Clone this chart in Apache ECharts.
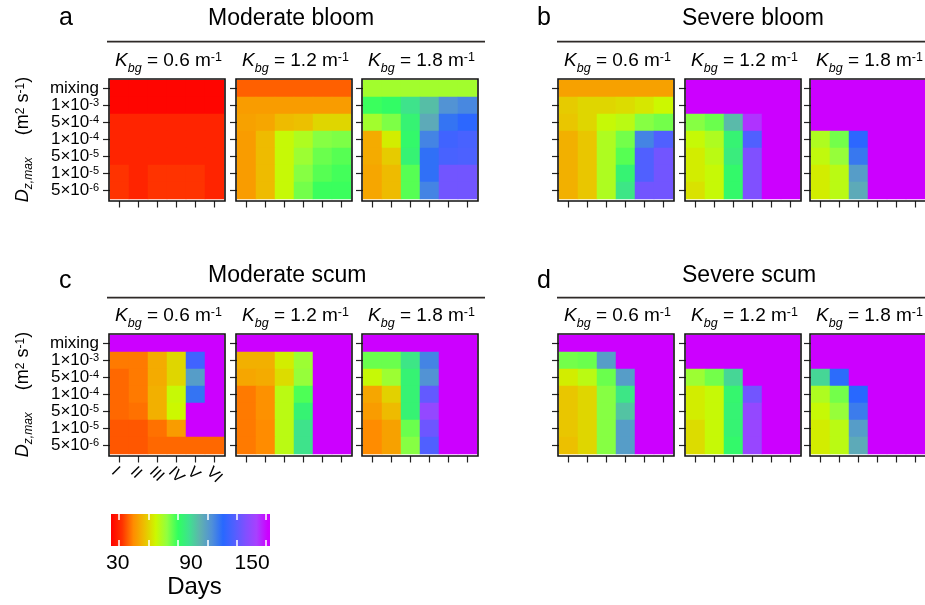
<!DOCTYPE html>
<html>
<head>
<meta charset="utf-8">
<script src="https://cdn.jsdelivr.net/npm/echarts@6/dist/echarts.min.js"></script>
<style>
  html, body { margin: 0; padding: 0; background: #fff; }
  #chart { width: 925px; height: 605px; }
</style>
</head>
<body>
<div id="chart"></div>
<script>
// ---- categories and tick labels ----
const dzLabels = ['mixing', '1×10^-3', '5×10^-4', '1×10^-4', '5×10^-5', '1×10^-5', '5×10^-6'];
const growthClasses = ['I', 'II', 'III', 'IV', 'V', 'VI'];
const kbgValues = ['0.6', '1.2', '1.8'];
const panelLetters = ['a', 'b', 'c', 'd'];
const panelTitles = ['Moderate bloom', 'Severe bloom', 'Moderate scum', 'Severe scum'];
const colorbarLabels = [30, 90, 150];
const colorbarTicks = [30.5, 58, 84, 110, 136, 162];

// ---- days to recovery; rows follow dzLabels (top to bottom), columns follow growthClasses ----
// 180 = not reached within the simulated season
const moderateBloomK06 = [
  [25, 25, 25, 25, 25, 25],
  [25, 25, 25, 25, 25, 25],
  [31, 31, 31, 31, 31, 31],
  [31, 31, 31, 31, 31, 31],
  [31, 31, 31, 31, 31, 31],
  [34, 31, 34, 34, 34, 31],
  [34, 31, 34, 34, 34, 31]
];
const moderateBloomK12 = [
  [39, 39, 39, 39, 39, 39],
  [47, 47, 47, 47, 47, 47],
  [48, 49, 53, 54, 58, 58],
  [47, 53, 65, 69, 75, 76],
  [47, 53, 65, 72, 78, 80],
  [47, 53, 65, 75, 80, 82],
  [47, 53, 65, 77, 83, 83]
];
const moderateBloomK18 = [
  [71, 71, 71, 71, 71, 71],
  [83, 85, 93, 101, 113, 116],
  [71, 76, 88, 106, 121, 125],
  [50, 62, 86, 117, 130, 132],
  [50, 56, 88, 122, 132, 133],
  [49, 53, 80, 122, 141, 141],
  [49, 53, 80, 117, 141, 141]
];
const severeBloomK06 = [
  [48, 48, 48, 48, 48, 48],
  [56, 58, 58, 59, 61, 64],
  [55, 58, 65, 67, 75, 77],
  [51, 55, 69, 77, 117, 134],
  [51, 55, 69, 80, 134, 141],
  [51, 55, 69, 88, 134, 141],
  [51, 55, 69, 92, 141, 141]
];
const severeBloomK12 = [
  [180, 180, 180, 180, 180, 180],
  [180, 180, 180, 180, 180, 180],
  [75, 78, 102, 156, 180, 180],
  [65, 69, 88, 134, 180, 180],
  [62, 67, 90, 144, 180, 180],
  [62, 65, 86, 144, 180, 180],
  [60, 65, 86, 144, 180, 180]
];
const severeBloomK18 = [
  [180, 180, 180, 180, 180, 180],
  [180, 180, 180, 180, 180, 180],
  [180, 180, 180, 180, 180, 180],
  [69, 77, 125, 180, 180, 180],
  [66, 73, 120, 180, 180, 180],
  [62, 67, 110, 180, 180, 180],
  [62, 67, 106, 180, 180, 180]
];
const moderateScumK06 = [
  [180, 180, 180, 180, 180, 180],
  [42, 42, 50, 58, 130, 180],
  [40, 42, 50, 58, 110, 180],
  [40, 42, 51, 65, 121, 180],
  [40, 41, 51, 64, 180, 180],
  [38, 38, 41, 47, 180, 180],
  [38, 38, 40, 40, 40, 40]
];
const moderateScumK12 = [
  [180, 180, 180, 180, 180, 180],
  [51, 51, 62, 72, 180, 180],
  [49, 50, 59, 73, 180, 180],
  [42, 45, 67, 81, 180, 180],
  [42, 45, 67, 88, 180, 180],
  [42, 44, 67, 93, 180, 180],
  [42, 44, 67, 93, 180, 180]
];
const moderateScumK18 = [
  [180, 180, 180, 180, 180, 180],
  [78, 78, 92, 117, 180, 180],
  [65, 72, 88, 113, 180, 180],
  [49, 57, 88, 138, 180, 180],
  [47, 53, 88, 149, 180, 180],
  [44, 48, 78, 140, 180, 180],
  [44, 48, 75, 134, 180, 180]
];
const severeScumK06 = [
  [180, 180, 180, 180, 180, 180],
  [77, 78, 110, 180, 180, 180],
  [62, 67, 78, 110, 180, 180],
  [55, 58, 75, 92, 180, 180],
  [55, 58, 75, 100, 180, 180],
  [55, 58, 75, 110, 180, 180],
  [54, 58, 75, 110, 180, 180]
];
const severeScumK12 = [
  [180, 180, 180, 180, 180, 180],
  [180, 180, 180, 180, 180, 180],
  [72, 77, 96, 180, 180, 180],
  [62, 65, 87, 141, 180, 180],
  [62, 65, 88, 149, 180, 180],
  [59, 65, 88, 150, 180, 180],
  [59, 65, 86, 150, 180, 180]
];
const severeScumK18 = [
  [180, 180, 180, 180, 180, 180],
  [180, 180, 180, 180, 180, 180],
  [96, 123, 180, 180, 180, 180],
  [69, 77, 124, 180, 180, 180],
  [65, 73, 119, 180, 180, 180],
  [62, 67, 110, 180, 180, 180],
  [62, 67, 106, 180, 180, 180]
];

const panelData = [
  [moderateBloomK06, moderateBloomK12, moderateBloomK18],
  [severeBloomK06, severeBloomK12, severeBloomK18],
  [moderateScumK06, moderateScumK12, moderateScumK18],
  [severeScumK06, severeScumK12, severeScumK18]
];

// ---- colour scale: rainbow, one stop every 10 days from 24 to 184 ----
const SCALE_MIN = 24, SCALE_MAX = 184, SCALE_STEP = 10;
const COLOR_RAMP = [
  '#ff0000', '#ff3300', '#ff8c00', '#ecc000', '#ccf800', '#90ff40', '#30ff60', '#40e090',
  '#60b0b0', '#5090d8', '#2868ff', '#5060ff', '#8050ff', '#a840ff', '#cc00ff', '#cc00ff', '#cc00ff'
];
const BAR_MIN = 24, BAR_MAX = 166;

// ---- layout ----
const FONT = '"Liberation Sans", Arial, Helvetica, sans-serif';
const frameLeft = [[109, 236, 362], [558, 685, 810]];
const frameTop = [79, 334];
const FRAME_W = 116, FRAME_H = 122;
const CELL_W = 114, CELL_H = 119;   // 6 x 19 px, 7 x 17 px

const chart = echarts.init(document.getElementById('chart'), null, { renderer: 'canvas' });

function toCells(rows) {
  const out = [];
  rows.forEach((row, r) => row.forEach((v, c) => out.push([c, r, v])));
  return out;
}

function dzFormatter(value) {
  if (value.indexOf('^') < 0) return '{n|' + value + '}';
  const parts = value.split('^');
  return '{n|' + parts[0] + '}{sup|' + parts[1] + '}';
}

const grids = [], xAxes = [], yAxes = [], series = [];
const graphics = [];

panelData.forEach((panel, p) => {
  const col = p % 2, row = Math.floor(p / 2);
  const Y = frameTop[row];

  // panel letter, heading and rule
  graphics.push({
    type: 'text', x: col ? 537 : 59, y: row ? 281 : 18, z: 100,
    style: { text: panelLetters[p], fontSize: 25, fontFamily: FONT, fill: '#000',
      align: 'left', verticalAlign: 'middle', textAlign: 'left', textVerticalAlign: 'middle' }
  });
  graphics.push({
    type: 'text', x: col ? 682 : 208, y: row ? 275.3 : 18.7, z: 100,
    style: { text: panelTitles[p], fontSize: 23, fontFamily: FONT, fill: '#000',
      align: 'left', verticalAlign: 'middle', textAlign: 'left', textVerticalAlign: 'middle' }
  });
  graphics.push({
    type: 'line', z: 100,
    shape: { x1: col ? 557 : 107, y1: row ? 297.7 : 41.7, x2: col ? 935 : 485, y2: row ? 297.7 : 41.7 },
    style: { stroke: '#2e2a28', lineWidth: 1.8 }
  });

  panel.forEach((cells, k) => {
    const idx = p * 3 + k;
    const X = frameLeft[col][k];
    const firstCol = (k === 0 && col === 0);
    const labelled = (p === 2 && k === 0);

    grids.push({ left: X + 1, top: Y + 1, width: CELL_W, height: CELL_H, containLabel: false });

    xAxes.push({
      gridIndex: idx, type: 'category', data: growthClasses, offset: FRAME_H - CELL_H - 1,
      axisLine: { show: false },
      axisTick: { show: true, alignWithLabel: true, length: 6.5, lineStyle: { color: '#222', width: 1.2 } },
      splitLine: { show: false },
      axisLabel: labelled ? {
        show: true, interval: 0, rotate: -45, fontSize: 16, fontFamily: FONT, color: '#000',
        align: 'left', verticalAlign: 'top', margin: 8
      } : { show: false }
    });

    yAxes.push({
      gridIndex: idx, type: 'category', data: dzLabels, inverse: true,
      axisLine: { show: false },
      axisTick: { show: true, alignWithLabel: true, length: 7, lineStyle: { color: '#222', width: 1.2 } },
      splitLine: { show: false },
      axisLabel: firstCol ? {
        show: true, interval: 0, margin: 11, color: '#000', formatter: dzFormatter,
        rich: {
          n: { fontSize: 17, fontFamily: FONT, color: '#000', lineHeight: 17 },
          sup: { fontSize: 11, fontFamily: FONT, color: '#000', lineHeight: 17, padding: [0, 0, 5, 0] }
        }
      } : { show: false },
      name: firstCol ? '{d|D}{sub|z,max}{gap| }{n|(m}{sup|2}{n| s}{sup|-1}{n|)}' : '',
      nameLocation: 'middle', nameRotate: 90, nameGap: 77,
      nameTextStyle: {
        rich: {
          d: { fontSize: 18, fontStyle: 'italic', fontFamily: FONT, color: '#000', lineHeight: 20 },
          sub: { fontSize: 12, fontStyle: 'italic', fontFamily: FONT, color: '#000', lineHeight: 20, padding: [12, 0, 0, 0] },
          gap: { width: 22, fontSize: 12, lineHeight: 20 },
          n: { fontSize: 18, fontFamily: FONT, color: '#000', lineHeight: 20 },
          sup: { fontSize: 12, fontFamily: FONT, color: '#000', lineHeight: 20, padding: [0, 0, 5, 0] }
        }
      }
    });

    series.push({
      type: 'heatmap', xAxisIndex: idx, yAxisIndex: idx, data: toCells(cells),
      silent: true, emphasis: { disabled: true }, itemStyle: { borderWidth: 0 }
    });

    // subplot heading: K_bg = value m^-1
    graphics.push({
      type: 'text', x: X + FRAME_W / 2 + 1.5, y: Y - 18.5, z: 100,
      style: {
        text: '{k|K}{sub|bg}{n| = ' + kbgValues[k] + ' m}{sup|-1}',
        align: 'center', verticalAlign: 'middle', textAlign: 'center', textVerticalAlign: 'middle',
        rich: {
          k: { fontSize: 19, fontStyle: 'italic', fontFamily: FONT, fill: '#000', lineHeight: 20 },
          sub: { fontSize: 12.5, fontStyle: 'italic', fontFamily: FONT, fill: '#000', lineHeight: 20, padding: [17, 0, 0, 0] },
          n: { fontSize: 19, fontFamily: FONT, fill: '#000', lineHeight: 20 },
          sup: { fontSize: 12.5, fontFamily: FONT, fill: '#000', lineHeight: 20, padding: [0, 0, 5, 0] }
        }
      }
    });

    // box around each subplot
    graphics.push({
      type: 'rect', z: 100,
      shape: { x: X, y: Y, width: FRAME_W, height: FRAME_H },
      style: { fill: 'rgba(0,0,0,0)', stroke: '#111', lineWidth: 1.6 }
    });
  });
});

// ---- colour bar ----
const barGrid = grids.length;
grids.push({ left: 111, top: 514, width: 159, height: 32 });
xAxes.push({
  gridIndex: barGrid, type: 'value', min: BAR_MIN, max: BAR_MAX, position: 'bottom', z: 5,
  axisLine: { show: false }, splitLine: { show: false },
  axisTick: { show: true, inside: true, length: 6, customValues: colorbarTicks, lineStyle: { color: '#fff', width: 1.5 } },
  axisLabel: {
    show: true, customValues: colorbarLabels, fontSize: 21, fontFamily: FONT, color: '#000', margin: 7,
    formatter: function (v) { return v === 90 ? '{mid|' + v + '}' : '{n|' + v + '}'; },
    rich: {
      n: { fontSize: 21, fontFamily: FONT, color: '#000' },
      mid: { fontSize: 21, fontFamily: FONT, color: '#000', padding: [0, 0, 0, 12] }
    }
  },
  name: 'Days', nameLocation: 'middle', nameGap: 22,
  nameTextStyle: { fontSize: 24, fontFamily: FONT, color: '#000', padding: [0, 0, 0, 8] }
});
xAxes.push({
  gridIndex: barGrid, type: 'value', min: BAR_MIN, max: BAR_MAX, position: 'top', z: 5,
  axisLine: { show: false }, splitLine: { show: false }, axisLabel: { show: false },
  axisTick: { show: true, inside: true, length: 6, customValues: colorbarTicks, lineStyle: { color: '#fff', width: 1.5 } }
});
yAxes.push({ gridIndex: barGrid, type: 'value', min: 0, max: 1, show: false });

const barStops = [];
COLOR_RAMP.forEach((c, i) => {
  const v = SCALE_MIN + i * SCALE_STEP;
  if (v <= BAR_MAX) barStops.push({ offset: (v - BAR_MIN) / (BAR_MAX - BAR_MIN), color: c });
});
barStops.push({ offset: 1, color: COLOR_RAMP[COLOR_RAMP.length - 1] });

series.push({
  type: 'custom', xAxisIndex: xAxes.length - 2, yAxisIndex: yAxes.length - 1, silent: true, clip: false,
  data: [[BAR_MIN, BAR_MAX]],
  encode: { x: [0, 1] },
  renderItem: function (params, api) {
    const p0 = api.coord([api.value(0), 0]);
    const p1 = api.coord([api.value(1), 1]);
    return {
      type: 'rect',
      shape: { x: p0[0], y: p1[1], width: p1[0] - p0[0], height: p0[1] - p1[1] },
      style: { fill: new echarts.graphic.LinearGradient(0, 0, 1, 0, barStops) }
    };
  }
});

const heatIdx = [];
for (let i = 0; i < 12; i++) heatIdx.push(i);

chart.setOption({
  animation: false,
  backgroundColor: '#fff',
  textStyle: { fontFamily: FONT },
  grid: grids,
  xAxis: xAxes,
  yAxis: yAxes,
  visualMap: {
    type: 'continuous', show: false, dimension: 2, seriesIndex: heatIdx,
    min: SCALE_MIN, max: SCALE_MAX, inRange: { color: COLOR_RAMP }
  },
  series: series,
  graphic: { elements: graphics }
});
</script>
</body>
</html>
